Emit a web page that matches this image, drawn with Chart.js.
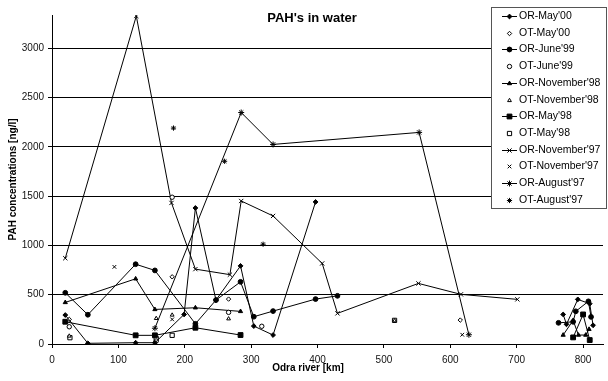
<!DOCTYPE html>
<html>
<head>
<meta charset="utf-8">
<title>PAH's in water</title>
<script src="https://cdn.jsdelivr.net/npm/chart.js@4.4.0/dist/chart.umd.min.js"></script>
<style>
  html, body { margin: 0; padding: 0; background: #fff; }
  canvas { display: block; }
</style>
</head>
<body>
<canvas id="pah" width="608" height="381"></canvas>
<script>
// [km along the Odra, PAH ng/l]
const orMay00 = [[20, 294], [54, 7], [126, 13], [155, 13], [199, 300], [216, 1381], [247, 446], [284, 793], [304, 182], [333, 91], [397, 1442]];
const orMay00Mouth = [[770, 300], [775, 200], [792, 453], [810, 409], [815, 190]];
const otMay00 = [[26, 250], [181, 682], [266, 456], [615, 243]];

const orJune99 = [[20, 520], [54, 297], [126, 810], [155, 747], [216, 205], [247, 446], [284, 631], [304, 277], [333, 334], [397, 456], [430, 489]];
const orJune99Mouth = [[763, 215], [785, 225], [789, 332], [808, 433], [812, 275]];
const otJune99 = [[26, 175], [181, 1490], [266, 321], [316, 180], [157, 30]];

const orNov98 = [[20, 422], [126, 662], [155, 351], [216, 368], [284, 331]];
const orNov98Mouth = [[770, 91], [785, 240], [793, 91], [804, 91], [809, 150]];
const otNov98 = [[26, 81], [157, 260], [181, 294], [266, 256], [516, 236]];

const orMay98 = [[20, 226], [126, 88], [155, 88], [216, 165], [284, 91]];
const orMay98Mouth = [[785, 67], [800, 300], [810, 40]];
const otMay98 = [[27, 64], [157, 55], [181, 88], [516, 240]];

const orNov97 = [[20, 871], [127, 3330], [180, 1432], [216, 760], [268, 704], [285, 1452], [333, 1300], [407, 818], [430, 311], [552, 615], [616, 504], [701, 453]];
const otNov97 = [[94, 783], [181, 250], [618, 94]];

const orAug97 = [[155, 160], [285, 2350], [333, 2026], [553, 2148], [628, 94]];
const otAug97 = [[183, 2192], [260, 1855], [318, 1013]];

const xTicks = [0, 100, 200, 300, 400, 500, 600, 700, 800];
const yTicks = [0, 500, 1000, 1500, 2000, 2500, 3000];

const FONT = '"Liberation Sans", Arial, sans-serif';
const toXY = (arr) => arr.map((p) => ({ x: p[0], y: p[1] }));

function markerSize(style, loose) {
  if (style === 'crossRot' || style === 'star') return loose ? 2.6 : 3;
  if (style === 'rect') return loose ? 3 : 3.4;
  return loose ? 2.2 : 2.4;
}

// one helper per kind of series: OR = sampled along the river (joined), OT = loose points
function orSet(label, arr, style, legend) {
  return {
    label: label, data: toXY(arr), showLine: true, tension: 0,
    borderColor: '#000', borderWidth: 1,
    pointStyle: style, pointRadius: markerSize(style, false),
    pointBackgroundColor: '#000', pointBorderColor: '#000', pointBorderWidth: 1,
    inLegend: legend
  };
}
function otSet(label, arr, style) {
  return {
    label: label, data: toXY(arr), showLine: false,
    pointStyle: style, pointRadius: markerSize(style, true),
    pointBackgroundColor: '#fff', pointBorderColor: '#000', pointBorderWidth: 1,
    borderColor: '#000', inLegend: true
  };
}

const datasets = [
  orSet("OR-May'00", orMay00, 'rectRot', true),
  otSet("OT-May'00", otMay00, 'rectRot'),
  orSet("OR-June'99", orJune99, 'circle', true),
  otSet("OT-June'99", otJune99, 'circle'),
  orSet("OR-November'98", orNov98, 'triangle', true),
  otSet("OT-November'98", otNov98, 'triangle'),
  orSet("OR-May'98", orMay98, 'rect', true),
  otSet("OT-May'98", otMay98, 'rect'),
  orSet("OR-November'97", orNov97, 'crossRot', true),
  otSet("OT-November'97", otNov97, 'crossRot'),
  orSet("OR-August'97", orAug97, 'star', true),
  otSet("OT-August'97", otAug97, 'star'),
  orSet("OR-May'00 mouth", orMay00Mouth, 'rectRot', false),
  orSet("OR-June'99 mouth", orJune99Mouth, 'circle', false),
  orSet("OR-November'98 mouth", orNov98Mouth, 'triangle', false),
  orSet("OR-May'98 mouth", orMay98Mouth, 'rect', false)
];

// titles and the boxed legend, drawn on top like the original
const decorations = {
  id: 'decorations',
  afterDraw(chart) {
    const ctx = chart.ctx;
    const area = chart.chartArea;
    ctx.save();
    ctx.fillStyle = '#000';
    ctx.textAlign = 'center';
    ctx.textBaseline = 'middle';
    ctx.font = 'bold 13px ' + FONT;
    ctx.fillText("PAH's in water", 312, 18);
    ctx.font = 'bold 10px ' + FONT;
    ctx.fillText('Odra river [km]', 308, 368);
    ctx.save();
    ctx.translate(13, (area.top + area.bottom) / 2);
    ctx.rotate(-Math.PI / 2);
    ctx.fillText('PAH concentrations [ng/l]', 0, 0);
    ctx.restore();

    // legend box
    ctx.fillStyle = '#fff';
    ctx.fillRect(491, 7, 116, 202);
    ctx.strokeStyle = '#555';
    ctx.lineWidth = 1;
    ctx.strokeRect(491.5, 7.5, 115, 201);

    ctx.textAlign = 'left';
    ctx.font = '10.5px ' + FONT;
    const items = chart.data.datasets.filter((d) => d.inLegend);
    items.forEach((d, i) => {
      const y = Math.round(16 + i * 16.7) + 0.5;
      if (d.showLine) {
        ctx.strokeStyle = '#000';
        ctx.beginPath();
        ctx.moveTo(502, y);
        ctx.lineTo(517, y);
        ctx.stroke();
      }
      ctx.fillStyle = d.pointBackgroundColor;
      ctx.strokeStyle = '#000';
      ctx.lineWidth = 1;
      Chart.helpers.drawPoint(ctx, {
        pointStyle: d.pointStyle, radius: d.pointRadius, rotation: 0, borderWidth: 1
      }, 509.5, y);
      ctx.fillStyle = '#000';
      ctx.fillText(d.label, 519, y);
    });
    ctx.restore();
  }
};

new Chart(document.getElementById('pah'), {
  type: 'scatter',
  data: { datasets: datasets },
  options: {
    responsive: false,
    devicePixelRatio: 1,
    animation: false,
    layout: { padding: { left: 6, right: 4, top: 15, bottom: 0 } },
    plugins: { legend: { display: false }, title: { display: false }, tooltip: { enabled: false } },
    scales: {
      x: {
        type: 'linear', min: 0, max: 830,
        afterFit: (s) => { s.height = 37; },
        afterBuildTicks: (s) => { s.ticks = xTicks.map((v) => ({ value: v })); },
        ticks: {
          includeBounds: false, color: '#111', font: { family: FONT, size: 10 }, padding: 6, maxRotation: 0,
          callback: (v) => String(v)
        },
        grid: { drawOnChartArea: false, drawTicks: true, tickLength: 4, color: '#000' },
        border: { display: true, color: '#000', width: 1 }
      },
      y: {
        type: 'linear', min: 0, max: 3340,
        afterFit: (s) => { s.width = 46; },
        afterBuildTicks: (s) => { s.ticks = yTicks.map((v) => ({ value: v })); },
        ticks: {
          includeBounds: false, color: '#111', font: { family: FONT, size: 10 }, padding: 4,
          callback: (v) => String(v)
        },
        grid: { drawOnChartArea: true, drawTicks: true, tickLength: 4, color: '#000', lineWidth: 1 },
        border: { display: true, color: '#000', width: 1 }
      }
    }
  },
  plugins: [decorations]
});
</script>
</body>
</html>
